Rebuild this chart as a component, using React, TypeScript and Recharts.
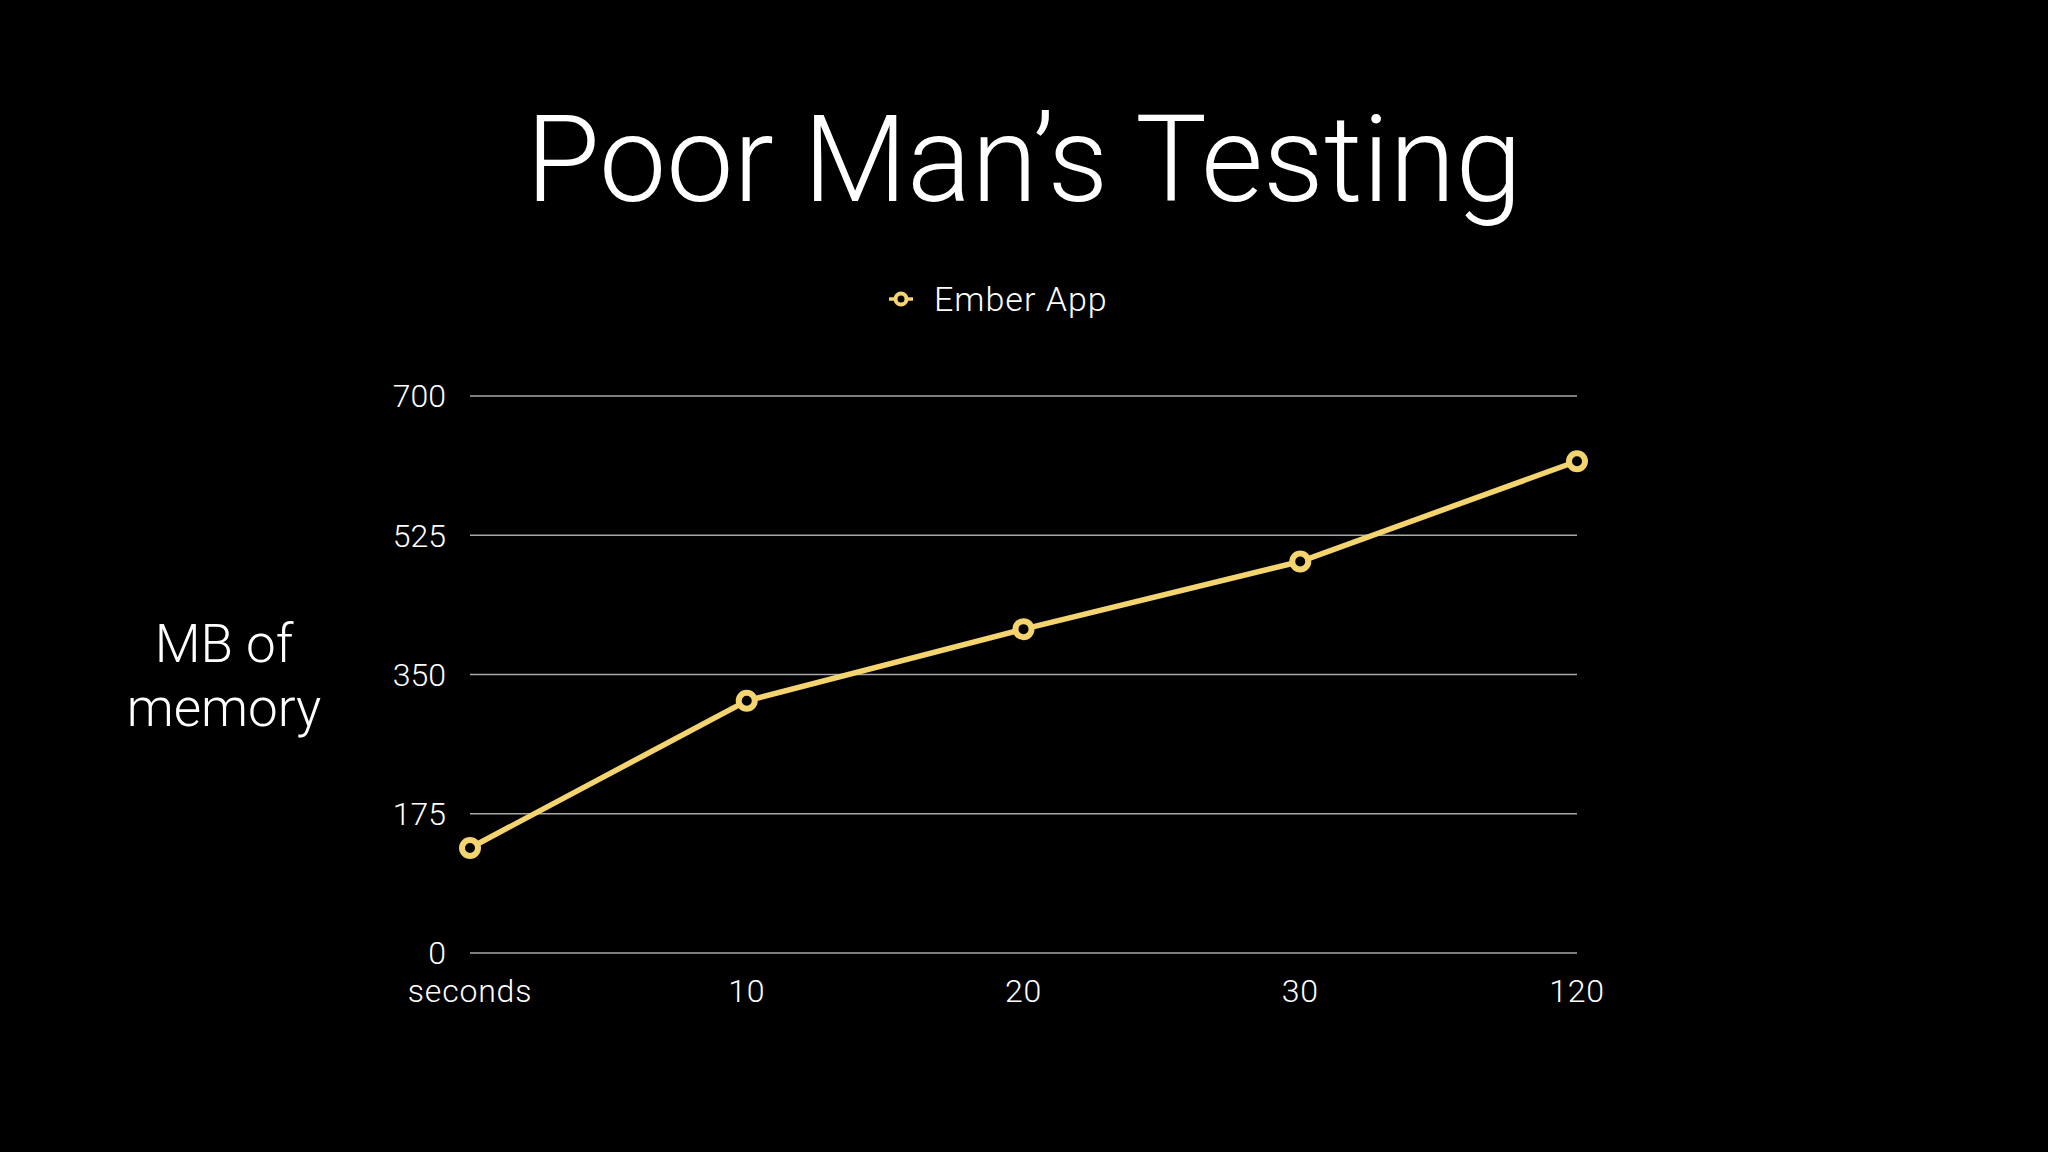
import React from "react";
import {
  LineChart,
  Line,
  XAxis,
  YAxis,
  CartesianGrid,
  Legend,
} from "recharts";

const categories = ["seconds", "10", "20", "30", "120"];
const emberApp = [132, 317, 407, 492, 618];
const yTicks = [0, 175, 350, 525, 700];

const data = categories.map((name, i) => ({ name, ember: emberApp[i] }));

const LINE_COLOR = "#F3D46E";
const FONT = "'Roboto', 'Liberation Sans', sans-serif";

function EmberLegend() {
  return (
    <div style={{ display: "flex", alignItems: "center", height: 40 }}>
      <svg width={30} height={20} style={{ marginRight: 18 }}>
        <line x1={3} y1={10} x2={27} y2={10} stroke={LINE_COLOR} strokeWidth={3.5} />
        <circle cx={15} cy={10} r={5.5} fill="#000" stroke={LINE_COLOR} strokeWidth={4} />
      </svg>
      <span
        style={{
          color: "#fff",
          fontFamily: FONT,
          fontWeight: 300,
          fontSize: 34,
          letterSpacing: 1,
          lineHeight: "40px",
        }}
      >
        Ember App
      </span>
    </div>
  );
}

export default function App() {
  return (
    <div
      style={{
        position: "absolute",
        top: 0,
        left: 0,
        width: 2048,
        height: 1152,
        background: "#000",
        overflow: "hidden",
      }}
    >
      <div
        style={{
          position: "absolute",
          top: 80,
          left: 0,
          width: 2048,
          textAlign: "center",
          color: "#fff",
          fontFamily: FONT,
          fontWeight: 300,
          fontSize: 120,
          lineHeight: "160px",
        }}
      >
        Poor Man’s Testing
      </div>
      <div
        style={{
          position: "absolute",
          top: 612,
          left: 124,
          width: 200,
          textAlign: "center",
          color: "#fff",
          fontFamily: FONT,
          fontWeight: 300,
          fontSize: 53,
          lineHeight: "64px",
        }}
      >
        MB of
        <br />
        memory
      </div>
      <div style={{ position: "absolute", top: 0, left: 0 }}>
        <LineChart
          width={2048}
          height={1152}
          data={data}
          margin={{ top: 356, right: 471, bottom: 169, left: 370 }}
        >
          <CartesianGrid
            horizontal
            vertical={false}
            stroke="#a8a8a8"
            strokeWidth={1.5}
          />
          <XAxis
            dataKey="name"
            interval={0}
            axisLine={false}
            tickLine={false}
            tickSize={0}
            tickMargin={26}
            tick={{ fill: "#fff", fontSize: 32, fontFamily: FONT, fontWeight: 300, letterSpacing: 0.8 }}
          />
          <YAxis
            width={100}
            domain={[0, 700]}
            ticks={yTicks}
            axisLine={false}
            tickLine={false}
            tickSize={0}
            tickMargin={24}
            tick={{ fill: "#fff", fontSize: 32, fontFamily: FONT, fontWeight: 300 }}
          />
          <Legend
            verticalAlign="top"
            wrapperStyle={{ top: 279, left: 886, width: 300 }}
            content={() => <EmberLegend />}
          />
          <Line
            type="linear"
            dataKey="ember"
            name="Ember App"
            stroke={LINE_COLOR}
            strokeWidth={5.5}
            dot={{ r: 8, fill: "#000", stroke: LINE_COLOR, strokeWidth: 6 }}
            activeDot={false}
            isAnimationActive={false}
          />
        </LineChart>
      </div>
    </div>
  );
}
